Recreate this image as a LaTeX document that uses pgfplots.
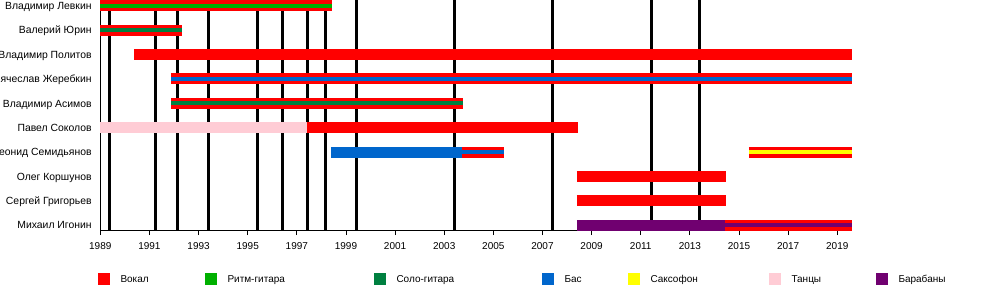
\documentclass[border=0pt]{standalone}
\usepackage{pgfplots}
\pgfplotsset{compat=1.18}
\usepackage{fontspec}
\setmainfont{Liberation Sans}
\definecolor{vocal}{RGB}{255,0,0}
\definecolor{rhythm}{RGB}{0,176,0}
\definecolor{lead}{RGB}{0,128,64}
\definecolor{bass}{RGB}{0,102,204}
\definecolor{sax}{RGB}{255,255,0}
\definecolor{dance}{RGB}{255,204,213}
\definecolor{drums}{RGB}{112,0,112}
\pgfplotsset{
  tlbar/.style={line width=11pt, forget plot, no markers},
  tlstripe/.style={line width=4pt, forget plot, no markers},
  tlline/.style={black, line width=3pt, forget plot, no markers},
}
\begin{document}
\begin{tikzpicture}
\useasboundingbox (0pt,0pt) rectangle (1000pt,290pt);
\begin{axis}[
  at={(100.3pt,60pt)}, anchor=south west,
  scale only axis,
  width=751.7pt, height=230pt,
  xmin=1989, xmax=2019.6,
  ymin=0.807, ymax=10.234,
  axis x line=bottom, axis y line=left,
  axis line style={-, line width=0.8pt, black},
  xtick={1989,1991,1993,1995,1997,1999,2001,2003,2005,2007,2009,2011,2013,2015,2017,2019},
  xticklabels={1989,1991,1993,1995,1997,1999,2001,2003,2005,2007,2009,2011,2013,2015,2017,2019},
  xtick align=outside, major tick length=5pt,
  x tick style={line width=0.8pt, black},
  x tick label style={font=\fontsize{10}{12}\selectfont, inner sep=0pt, yshift=-7pt},
  ytick={1,2,3,4,5,6,7,8,9,10},
  yticklabels={Михаил Игонин, Сергей Григорьев, Олег Коршунов, Леонид Семидьянов, Павел Соколов, Владимир Асимов, Вячеслав Жеребкин, Владимир Политов, Валерий Юрин, Владимир Левкин},
  y tick style={draw=none},
  y tick label style={font=\fontsize{10.4}{12}\selectfont, inner sep=0pt, xshift=-6pt, text height=7.4pt, text depth=0pt},
  clip=false,
  legend columns=-1,
  legend cell align=left,
  legend style={at={(axis description cs:0,0)}, anchor=west, xshift=-2.3pt, yshift=-49pt,
    draw=none, fill=none, inner sep=0pt, outer sep=0pt,
    font=\fontsize{10}{12}\selectfont,
    nodes={inner sep=0pt, text height=7.2pt, text depth=0pt}},
  legend image code/.code={\fill[#1] (0pt,-6pt) rectangle (12pt,6pt);},
]
% legend entries
\addlegendimage{fill=vocal, draw=none}
\addlegendentry{\makebox[95pt][l]{\hspace{10.5pt}Вокал}}
\addlegendimage{fill=rhythm, draw=none}
\addlegendentry{\makebox[157pt][l]{\hspace{10.5pt}Ритм-гитара}}
\addlegendimage{fill=lead, draw=none}
\addlegendentry{\makebox[156pt][l]{\hspace{10.5pt}Соло-гитара}}
\addlegendimage{fill=bass, draw=none}
\addlegendentry{\makebox[74pt][l]{\hspace{10.5pt}Бас}}
\addlegendimage{fill=sax, draw=none}
\addlegendentry{\makebox[129pt][l]{\hspace{10.5pt}Саксофон}}
\addlegendimage{fill=dance, draw=none}
\addlegendentry{\makebox[95pt][l]{\hspace{10.5pt}Танцы}}
\addlegendimage{fill=drums, draw=none}
\addlegendentry{\makebox[80pt][l]{\hspace{10.5pt}Барабаны}}

% vertical release lines
\pgfplotsinvokeforeach{1989.39,1991.24,1992.13,1993.40,1995.39,1996.42,1997.44,1998.15,1999.41,2003.41,2007.40,2011.44,2013.41}{
  \addplot[tlline] coordinates {(#1,0.807) (#1,10.234)};
}

% Владимир Левкин (10)
\addplot[vocal, tlbar] coordinates {(1989,10) (1998.42,10)};
\addplot[rhythm, tlstripe] coordinates {(1989,10) (1998.42,10)};
% Валерий Юрин (9)
\addplot[vocal, tlbar] coordinates {(1989,9) (1992.31,9)};
\addplot[lead, tlstripe] coordinates {(1989,9) (1992.31,9)};
% Владимир Политов (8)
\addplot[vocal, tlbar] coordinates {(1990.38,8) (2019.6,8)};
% Вячеслав Жеребкин (7)
\addplot[vocal, tlbar] coordinates {(1991.88,7) (2019.6,7)};
\addplot[bass, tlstripe] coordinates {(1991.88,7) (2019.6,7)};
% Владимир Асимов (6)
\addplot[vocal, tlbar] coordinates {(1991.88,6) (2003.76,6)};
\addplot[lead, tlstripe] coordinates {(1991.88,6) (2003.76,6)};
% Павел Соколов (5)
\addplot[dance, tlbar] coordinates {(1989,5) (1997.40,5)};
\addplot[vocal, tlbar] coordinates {(1997.40,5) (2008.43,5)};
% Леонид Семидьянов (4)
\addplot[bass, tlbar] coordinates {(1998.39,4) (2003.74,4)};
\addplot[vocal, tlbar] coordinates {(2003.74,4) (2005.42,4)};
\addplot[bass, tlstripe] coordinates {(2003.74,4) (2005.42,4)};
\addplot[vocal, tlbar] coordinates {(2015.40,4) (2019.6,4)};
\addplot[sax, tlstripe] coordinates {(2015.40,4) (2019.6,4)};
% Олег Коршунов (3)
\addplot[vocal, tlbar] coordinates {(2008.40,3) (2014.47,3)};
% Сергей Григорьев (2)
\addplot[vocal, tlbar] coordinates {(2008.40,2) (2014.47,2)};
% Михаил Игонин (1)
\addplot[drums, tlbar] coordinates {(2008.40,1) (2014.43,1)};
\addplot[vocal, tlbar] coordinates {(2014.43,1) (2019.6,1)};
\addplot[drums, tlstripe] coordinates {(2014.43,1) (2019.6,1)};
\end{axis}
\end{tikzpicture}
\end{document}
